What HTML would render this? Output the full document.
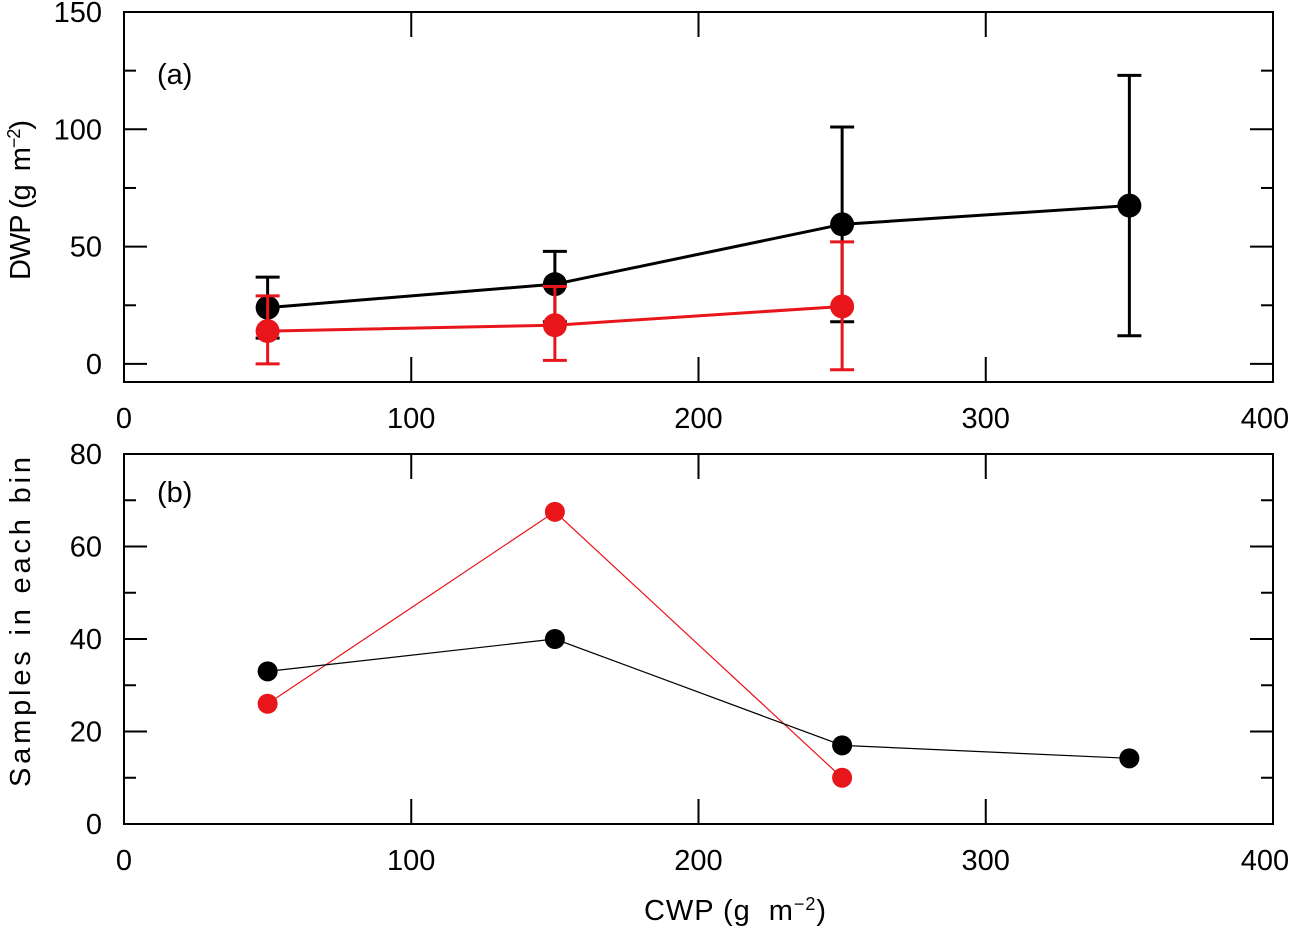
<!DOCTYPE html>
<html><head><meta charset="utf-8"><style>
body{margin:0;background:#fff}
svg text{font-family:"Liberation Sans",sans-serif;font-size:29px;fill:#000}
</style></head><body>
<svg id="c" width="1295" height="926" xmlns="http://www.w3.org/2000/svg"></svg>
<script>
const xCats=[50,150,250,350];
const aBlack=[24,34,59.5,67.5];
const aBlackHi=[37,48,101,123];
const aBlackLo=[11,18,18,12];
const aRed=[14,16.5,24.5];
const aRedHi=[29,33,52];
const aRedLo=[0,1.5,-2.5];
const bBlack=[33,40,17,14.2];
const bRed=[26,67.5,10];
const xTicks=[0,100,200,300,400];
const aTicks=[0,50,100,150];
const bTicks=[0,20,40,60,80];
const svg=document.getElementById('c');
const NS='http://www.w3.org/2000/svg';
function mk(t,a,p){const e=document.createElementNS(NS,t);for(const k in a)e.setAttribute(k,a[k]);(p||svg).appendChild(e);return e;}
const X0=124,X1=1273;
const sx=v=>X0+(v/400)*(X1-X0);
function panel(name,top,bot,ymin,ymax,ticks,minorStep,label,labY,ylab,ylabLen,ylabC){
  const g=mk('g',{});
  
  
  const sy=v=>bot-(v-ymin)/(ymax-ymin)*(bot-top);
  const fr=mk('rect',{x:X0,y:top,width:X1-X0,height:bot-top,fill:'none',stroke:'#000','stroke-width':2},g);
  
  
  xTicks.forEach(t=>{const x=sx(t);
    mk('line',{x1:x,x2:x,y1:bot,y2:bot-25,stroke:'#000','stroke-width':2},g);
    mk('line',{x1:x,x2:x,y1:top,y2:top+25,stroke:'#000','stroke-width':2},g);
    const tx=mk('text',{x:x-(t===400?8:0),y:bot+46,'text-anchor':'middle'},g);tx.textContent=t;
    
    
  });
  for(let v=ymin<0?0:ymin;v<=ymax+0.01;v+=minorStep){const y=sy(v);const major=ticks.includes(v);const L=major?23:12;
    mk('line',{x1:X0,x2:X0+L,y1:y,y2:y,stroke:'#000','stroke-width':2},g);
    mk('line',{x1:X1,x2:X1-L,y1:y,y2:y,stroke:'#000','stroke-width':2},g);}
  ticks.forEach(t=>{const tx=mk('text',{x:X0-22,y:sy(t)+10,'text-anchor':'end'},g);tx.textContent=t;
    
    });
  const lb=mk('text',{x:157,y:labY,'font-size':26},g);lb.textContent=label;
  
  
  const yl=mk('text',{transform:`translate(30,${ylabC}) rotate(-90)`,'text-anchor':'middle','font-size':28,textLength:ylabLen,lengthAdjust:'spacing'},g);yl.innerHTML=ylab;
  
  
  return {g,sy};
}
function series(g,sy,vals,col,w,r,hi,lo,name){
  const s=mk('g',{},g);
  
  
  mk('polyline',{points:vals.map((v,i)=>sx(xCats[i])+','+sy(v)).join(' '),fill:'none',stroke:col,'stroke-width':w},s);
  vals.forEach((v,i)=>{const x=sx(xCats[i]);
    if(hi){mk('line',{x1:x,x2:x,y1:sy(hi[i]),y2:sy(lo[i]),stroke:col,'stroke-width':3},s);
      [hi[i],lo[i]].forEach(e=>mk('line',{x1:x-12,x2:x+12,y1:sy(e),y2:sy(e),stroke:col,'stroke-width':3},s));}
    const c=mk('circle',{cx:x,cy:sy(v),r:r,fill:col},s);
    
    
  });
}
const A=panel('panel-a',12,382,-7.7,150,aTicks,25,'(a)',84,'DWP (g&#160;&#160;m<tspan dy="-10" font-size="18">−2</tspan><tspan dy="10">)</tspan>',160,200);
series(A.g,A.sy,aBlack,'#000',3,12,aBlackHi,aBlackLo,'series-black-a');
series(A.g,A.sy,aRed,'#e8151b',3,12,aRedHi,aRedLo,'series-red-a');
const B=panel('panel-b',454,824,0,80,bTicks,10,'(b)',502,'Samples in each bin',330,622);
series(B.g,B.sy,bRed,'#e8151b',1.2,10,null,null,'series-red-b');
series(B.g,B.sy,bBlack,'#000',1.2,10,null,null,'series-black-b');
const xt=mk('text',{x:735,y:920,'text-anchor':'middle','font-size':28,textLength:182,lengthAdjust:'spacing'});
xt.innerHTML='CWP (g&#160;&#160;m<tspan dy="-10" font-size="18">−2</tspan><tspan dy="10">)</tspan>';


</script>
</body></html>
